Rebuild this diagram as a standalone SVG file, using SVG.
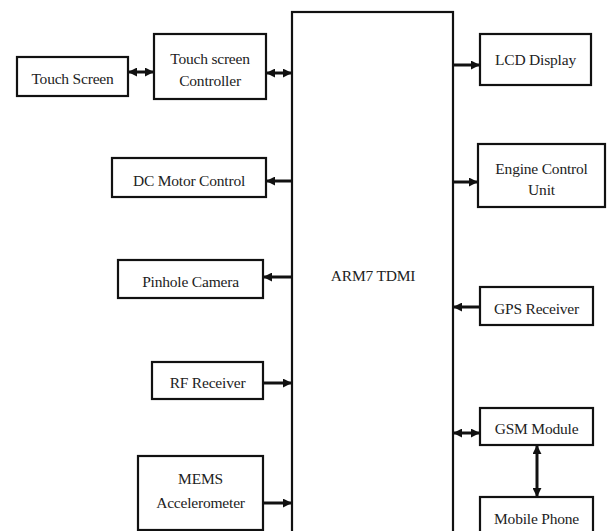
<svg xmlns="http://www.w3.org/2000/svg" width="607" height="531" viewBox="0 0 607 531">
<style>
.box{fill:#fff;stroke:#111;stroke-width:2.2}
.t{font-family:"Liberation Serif","Times New Roman",serif;font-size:15.5px;fill:#222;text-anchor:middle;dominant-baseline:central;letter-spacing:-0.2px}
.c{stroke:#111;stroke-width:3;fill:none}
</style>
<defs>
<marker id="ah" viewBox="0 0 10 10" refX="9" refY="5" markerWidth="9" markerHeight="9" markerUnits="userSpaceOnUse" orient="auto-start-reverse">
<path d="M0,0 L10,5 L0,10 Z" fill="#111"/>
</marker>
</defs>
<rect width="607" height="531" fill="#fff"/>
<g id="arm"><rect class="box" x="292" y="12" width="161" height="530"/><text class="t" x="373" y="275">ARM7 TDMI</text></g>
<g id="touch-screen"><rect class="box" x="17" y="57" width="111" height="39"/><text class="t" x="72.5" y="78">Touch Screen</text></g>
<g id="touch-controller"><rect class="box" x="154" y="34" width="112" height="65"/><text class="t" x="210" y="58">Touch screen</text><text class="t" x="210" y="80">Controller</text></g>
<g id="dc-motor"><rect class="box" x="112" y="158" width="154" height="39"/><text class="t" x="189" y="180">DC Motor Control</text></g>
<g id="pinhole"><rect class="box" x="118" y="260" width="145" height="38"/><text class="t" x="190.5" y="281">Pinhole Camera</text></g>
<g id="rf"><rect class="box" x="152" y="362" width="111" height="37"/><text class="t" x="207.5" y="382">RF Receiver</text></g>
<g id="mems"><rect class="box" x="138" y="456" width="125" height="74"/><text class="t" x="200.5" y="478">MEMS</text><text class="t" x="200.5" y="502">Accelerometer</text></g>
<g id="lcd"><rect class="box" x="480" y="34" width="111" height="51"/><text class="t" x="535.5" y="59">LCD Display</text></g>
<g id="ecu"><rect class="box" x="478" y="144" width="127" height="63"/><text class="t" x="541.5" y="168">Engine Control</text><text class="t" x="541.5" y="189">Unit</text></g>
<g id="gps"><rect class="box" x="480" y="287" width="113" height="38"/><text class="t" x="536.5" y="308">GPS Receiver</text></g>
<g id="gsm"><rect class="box" x="480" y="408" width="113" height="37"/><text class="t" x="536.5" y="428">GSM Module</text></g>
<g id="mobile"><rect class="box" x="480" y="497" width="113" height="45"/><text class="t" x="536.5" y="518">Mobile Phone</text></g>
<g id="connectors">
<line class="c" x1="129" y1="72" x2="153" y2="72" marker-start="url(#ah)" marker-end="url(#ah)"/>
<line class="c" x1="267" y1="73" x2="291" y2="73" marker-start="url(#ah)" marker-end="url(#ah)"/>
<line class="c" x1="292" y1="181" x2="267" y2="181" marker-end="url(#ah)"/>
<line class="c" x1="292" y1="277" x2="264" y2="277" stroke-width="2" marker-end="url(#ah)"/>
<line class="c" x1="263" y1="383" x2="291" y2="383" marker-end="url(#ah)"/>
<line class="c" x1="263" y1="503" x2="291" y2="503" marker-end="url(#ah)"/>
<line class="c" x1="453" y1="65" x2="479" y2="65" marker-end="url(#ah)"/>
<line class="c" x1="453" y1="182" x2="477" y2="182" marker-end="url(#ah)"/>
<line class="c" x1="480" y1="307" x2="454" y2="307" stroke-width="2" marker-end="url(#ah)"/>
<line class="c" x1="454" y1="433" x2="479" y2="433" marker-start="url(#ah)" marker-end="url(#ah)"/>
<line class="c" x1="537" y1="446" x2="537" y2="496" marker-start="url(#ah)" marker-end="url(#ah)"/>
</g>
</svg>
